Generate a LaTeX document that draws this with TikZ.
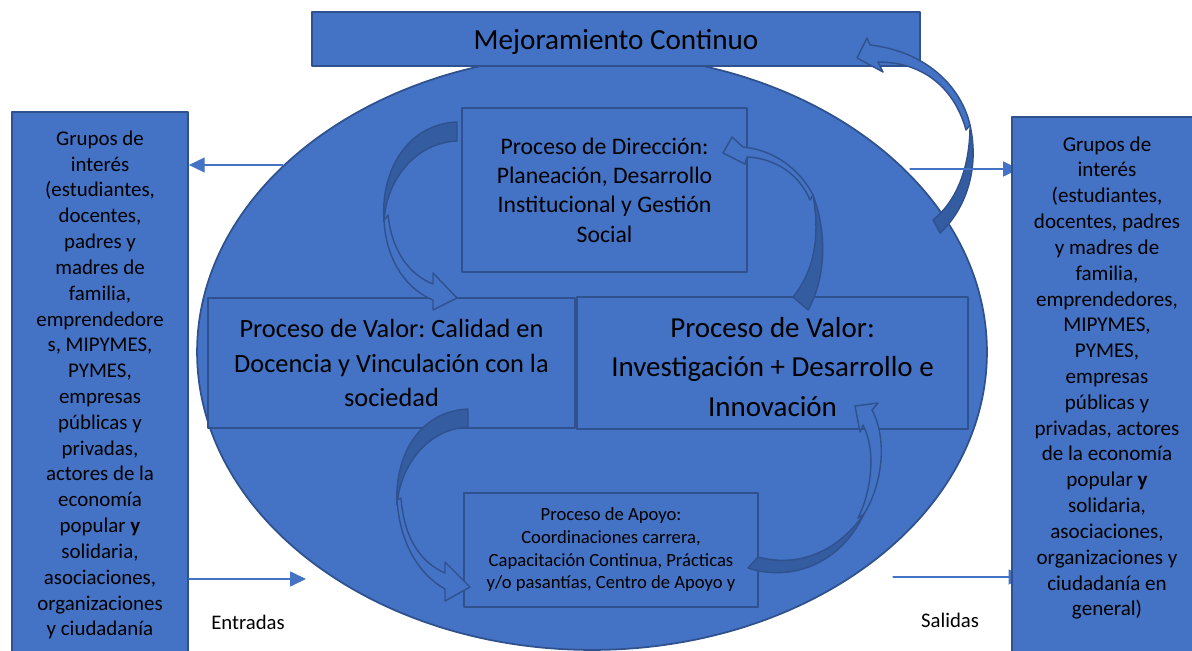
\documentclass[tikz,border=0pt]{standalone}
\usepackage{fontspec}
\setmainfont{Carlito}
\usetikzlibrary{arrows.meta}
\usetikzlibrary{shapes.geometric}
\usetikzlibrary{positioning}
\definecolor{ofblue}{RGB}{68,114,196}
\definecolor{ofline}{RGB}{47,82,143}
\definecolor{ofshade}{RGB}{52,92,160}
\frenchspacing

\begin{document}
\begin{tikzpicture}[x=0.02cm, y=-0.02cm, line cap=round, line join=round,
    procbox/.style={draw=ofline, line width=1pt, fill=ofblue, align=center, inner sep=0pt},
    sidebox/.style={draw=ofline, line width=1pt, fill=ofblue, inner sep=0pt},
    sidetext/.style={align=center, inner sep=0pt},
    bandlight/.style={draw=ofline, line width=0.8pt, fill=ofblue},
    banddark/.style={draw=ofline, line width=0.8pt, fill=ofshade},
    flow/.style={draw=ofblue, line width=0.7pt, -{Triangle[length=9pt,width=8.5pt]}},
    note/.style={inner sep=0pt, font=\fontsize{11.8}{14}\selectfont}]
  \useasboundingbox (0,0) rectangle (1192,651);
  \clip (0,0) rectangle (1192,651);
  %--- Organization
    \node[ellipse, draw=ofline, line width=1pt, fill=ofblue, minimum width=15.8cm, minimum height=11.92cm, inner sep=0pt] (org) at (592,352) {};
  %--- Mejoramiento Continuo
    \node[procbox, minimum width=12.16cm, minimum height=1.08cm] (mejora) at (616,39) {};
    \node[sidetext, font=\fontsize{16.6}{19}\selectfont] (mejoraTxt) at (616,42) {Mejoramiento Continuo};
  %--- Processes
    \node[procbox, minimum width=5.7cm, minimum height=3.28cm, font=\fontsize{13.5}{16.7}\selectfont] (direccion) at (604.5,190) {Proceso de Dirección:\\Planeación, Desarrollo\\Institucional y Gestión\\Social};
    \node[procbox, minimum width=7.34cm, minimum height=2.6cm, font=\fontsize{15}{19.8}\selectfont] (valorA) at (391.5,363) {Proceso de Valor: Calidad en\\Docencia y Vinculación con la\\sociedad};
    \node[procbox, minimum width=7.82cm, minimum height=2.64cm] (valorB) at (772.5,363) {};
    \node[sidetext, font=\fontsize{16.5}{22.7}\selectfont] (valorBTxt) at (772.5,367) {Proceso de Valor:\\Investigación + Desarrollo e\\Innovación};
    \node[procbox, minimum width=5.88cm, minimum height=2.28cm, font=\fontsize{10.6}{12.9}\selectfont] (apoyo) at (611,550) {Proceso de Apoyo:\\Coordinaciones carrera,\\Capacitación Continua, Prácticas\\y/o pasantías, Centro de Apoyo y};
  %--- Direccion -> Valor (docencia)
    \draw[banddark] (457,122) .. controls (408,124) and (380,170) .. (384,222) .. controls (386,180) and (415,143) .. (457,141) -- cycle;
    \draw[bandlight] (384,220) .. controls (386,262) and (408,290) .. (433,300) -- (433,310) -- (457,298) -- (433,273) -- (433,284) .. controls (410,275) and (392,252) .. (388,215) -- cycle;
  %--- Valor (investigacion) -> Direccion
    \draw[banddark] (808,310) .. controls (825,280) and (828,235) .. (813,195) .. controls (820,235) and (815,270) .. (793,297) -- cycle;
    \draw[bandlight] (813,195) .. controls (800,170) and (775,150) .. (743,147) -- (732,137) -- (723,153) -- (745,164) -- (747,157) .. controls (775,158) and (800,175) .. (810,200) -- cycle;
  %--- Valor (docencia) -> Apoyo
    \draw[banddark] (468,409) .. controls (420,411) and (394,455) .. (397,505) .. controls (400,465) and (428,429) .. (468,427) -- cycle;
    \draw[bandlight] (397,500) .. controls (400,545) and (420,575) .. (445,589) -- (445,601) -- (470,587) -- (445,562) -- (445,573) .. controls (422,563) and (404,540) .. (401,498) -- cycle;
  %--- Apoyo -> Valor (investigacion)
    \draw[banddark] (748,568) .. controls (790,582) and (840,565) .. (864,514) .. controls (835,555) and (795,567) .. (758,557) -- cycle;
    \draw[bandlight] (864,514) .. controls (882,485) and (888,440) .. (872,410) -- (878,403) -- (855,406) -- (860,432) -- (863,425) .. controls (876,450) and (872,490) .. (858,518) -- cycle;
  %--- Apoyo loop -> Mejoramiento
    \draw[banddark] (940,233) .. controls (965,210) and (980,170) .. (970,125) .. controls (970,165) and (958,200) .. (933,220) -- cycle;
    \draw[bandlight] (970,125) .. controls (962,90) and (930,52) .. (870,45) -- (867,38) -- (857,58) -- (883,72) -- (878,62) .. controls (925,62) and (955,90) .. (966,130) -- cycle;
  %--- Connectors (salidas)
    \coordinate (outTop) at (910,169);
    \coordinate (outBot) at (893,577);
    \draw[flow, shorten >=-4pt] (outTop) -- (1012,169);
    \draw[flow, shorten >=-7pt] (outBot) -- (1012,577);
  %--- Grupos de interes (entradas)
    \node[sidebox, minimum width=3.52cm, minimum height=10.96cm] (entrada) at (100,386) {};
    \node[sidetext, font=\fontsize{11.9}{14.7}\selectfont] (entradaTxt) at (100,385) {Grupos de\\interés\\(estudiantes,\\docentes,\\padres y\\madres de\\familia,\\emprendedore\\s, MIPYMES,\\PYMES,\\empresas\\públicas y\\privadas,\\actores de la\\economía\\popular \textbf{y}\\solidaria,\\asociaciones,\\organizaciones\\y ciudadanía};
  %--- Grupos de interes (salidas)
    \node[sidebox, minimum width=3.84cm, minimum height=10.86cm] (salida) at (1108,388.5) {};
    \node[sidetext, font=\fontsize{12}{14.7}\selectfont] (salidaTxt) at (1107,378) {Grupos de\\interés\\(estudiantes,\\docentes, padres\\y madres de\\familia,\\emprendedores,\\MIPYMES,\\PYMES,\\empresas\\públicas y\\privadas, actores\\de la economía\\popular \textbf{y}\\solidaria,\\asociaciones,\\organizaciones y\\ciudadanía en\\general)};
  %--- Connectors (entradas)
    \coordinate (inTop) at (283,165);
    \coordinate (inBot) at (306,579);
    \draw[flow] (inTop) -- (entrada.east |- inTop);
    \draw[flow] (entrada.east |- inBot) -- (inBot);
  %--- Labels
    \node[note] (entradas) at (248,622) {Entradas};
    \node[note] (salidas) at (950,620) {Salidas};
\end{tikzpicture}
\end{document}
